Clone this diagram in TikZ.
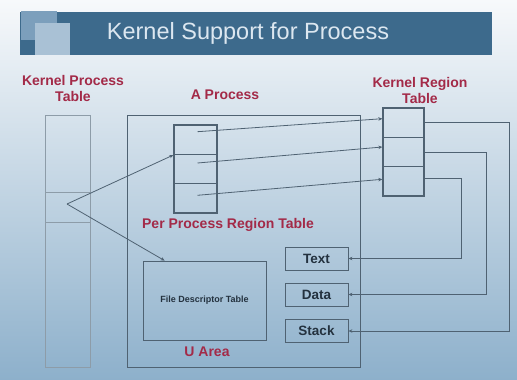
\documentclass[tikz,border=0pt]{standalone}
\usepackage{fontspec}
\setmainfont{Liberation Sans}
\usetikzlibrary{arrows.meta,calc}
\definecolor{banner}{HTML}{3D6A8C}
\definecolor{bannermid}{HTML}{7C9FBC}
\definecolor{bannerlight}{HTML}{A9C1D5}
\definecolor{titletext}{HTML}{DCE7F0}
\definecolor{labelred}{HTML}{A32A48}
\definecolor{linegray}{HTML}{4F6272}
\definecolor{palegray}{HTML}{8D9CA8}
\definecolor{boxtext}{HTML}{24323F}
\definecolor{bgtop}{HTML}{F7F9FB}
\definecolor{bgbottom}{HTML}{8DB0CB}
\tikzset{
  tablecell/.style={draw=linegray, line width=1.3pt, minimum width=43pt, minimum height=29.33pt, inner sep=0pt},
  frame/.style={draw=linegray, line width=0.8pt, inner sep=0pt},
  seglabel/.style={frame, minimum width=63pt, minimum height=23pt, font=\fontsize{13.5}{13.5}\selectfont\bfseries, text=boxtext},
  redlabel/.style={font=\fontsize{14}{16}\selectfont\bfseries, text=labelred, align=center},
  link/.style={draw=linegray, line width=0.8pt, -{Stealth[length=4pt,width=3.5pt]}},
}
\begin{document}
\begin{tikzpicture}[x=1pt,y=-1pt]
% background
\useasboundingbox (0,0) rectangle (517,380);
\fill[top color=bgtop, bottom color=bgbottom] (0,0) rectangle (517,380);

% title banner with its corner squares
\fill[banner] (20,12) rectangle (492,55);
\fill[bannermid] (21,11) rectangle (57,40);
\fill[bannerlight] (35,23) rectangle (70,55);
\node[text=titletext, font=\fontsize{23.5}{23.5}\selectfont] (title) at (248,33) {Kernel Support for Process};

% kernel process table
\node[frame, draw=palegray, minimum width=45pt, minimum height=252pt] (kpt) at (67.5,241) {};
\node[frame, draw=palegray, minimum width=45pt, minimum height=30pt] (kptrow) at (67.5,207) {};
\coordinate (kptpt) at (67,204);
\node[redlabel] (kptlabel) at (73,88) {Kernel Process\\Table};

% the process and its per process region table
\node[frame, minimum width=233pt, minimum height=252pt] (proc) at (243.5,241) {};
\node[redlabel] (proclabel) at (225,95) {A Process};
\node[tablecell] (p1) at (195.5,139.7) {};
\node[tablecell] (p2) at (195.5,169) {};
\node[tablecell] (p3) at (195.5,198.3) {};
\node[redlabel] (pprtlabel) at (228,225) {Per Process Region Table};

% kernel region table
\node[tablecell, minimum width=41pt] (k1) at (403.5,122.7) {};
\node[tablecell, minimum width=41pt] (k2) at (403.5,152) {};
\node[tablecell, minimum width=41pt] (k3) at (403.5,181.3) {};
\node[redlabel] (krtlabel) at (420,90) {Kernel Region\\Table};

% u area
\node[frame, minimum width=123pt, minimum height=79pt, font=\fontsize{9}{9}\selectfont\bfseries, text=boxtext] (fdt) at (204.5,300.5) {File Descriptor Table};
\node[redlabel] (ulabel) at (207,352) {U Area};

% text, data and stack regions
\node[seglabel] (text) at (316.5,258.5) {Text};
\node[seglabel] (data) at (316.5,294.5) {Data};
\node[seglabel] (stack) at (316.5,331) {Stack};

% entries of the per process region table point to kernel regions
\draw[link] ($(p1.center)+(2,-8)$) -- ($(k1.west)+(0,-4)$);
\draw[link] ($(p2.center)+(2,-6)$) -- ($(k2.west)+(0,-5)$);
\draw[link] ($(p3.center)+(2,-3)$) -- ($(k3.west)+(0,-2)$);

% kernel regions map to text, data and stack
\draw[link] (k1.east) -- ++(85,0) |- (stack.east);
\draw[link] (k2.east) -- ++(62,0) |- (data.east);
\draw[link] ($(k3.east)+(0,-3)$) -- ++(37,0) |- (text.east);

% process table entry points to the process
\draw[link] (kptpt) -- (p1.south west);
\draw[link] (kptpt) -- ($(fdt.north west)+(22,0)$);
\end{tikzpicture}
\end{document}
